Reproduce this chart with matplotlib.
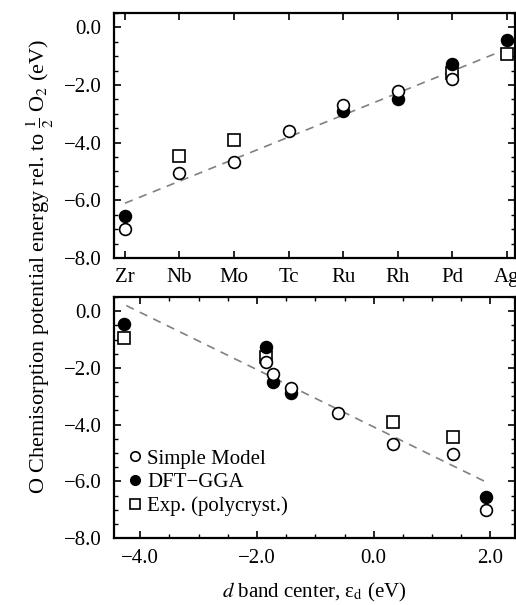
import numpy as np
import matplotlib
matplotlib.use('Agg')
from matplotlib import pyplot as plt
from matplotlib.ticker import MultipleLocator

plt.rcParams['font.family'] = ['Liberation Serif', 'DejaVu Serif']
plt.rcParams['mathtext.fontset'] = 'stix'

metals = ['Zr', 'Nb', 'Mo', 'Tc', 'Ru', 'Rh', 'Pd', 'Ag']
# d band centre for each metal (eV)
eps_d = [1.92, 1.36, 0.33, -0.62, -1.42, -1.72, -1.85, -4.28]

# O chemisorption energies (eV), None where there is no value
simple_model = [-7.0, -5.05, -4.67, -3.6, -2.7, -2.2, -1.78, None]
dft_gga = [-6.55, None, None, None, -2.9, -2.5, -1.27, -0.45]
experiment = [None, -4.45, -3.92, None, None, None, -1.6, -0.93]

# dashed trend lines, end points
fit_top_x = [0.0, 7.0]
fit_top_y = [-6.1, -0.75]
fit_bot_x = [-4.24, 1.9]
fit_bot_y = [0.2, -6.0]


def pick(xs, ys):
    pts = [(x, y) for x, y in zip(xs, ys) if y is not None]
    return [p[0] for p in pts], [p[1] for p in pts]


def fmt(v, p):
    return ('%.1f' % v).replace('-', '\u2212')


fig = plt.figure(figsize=(5.16, 6.05), dpi=100)
ax1 = fig.add_axes([0.221, 0.5736, 0.777, 0.405])
ax2 = fig.add_axes([0.221, 0.1107, 0.777, 0.3983])

idx = list(range(len(metals)))
ms = 8.5
for ax, xs, fx, fy in [(ax1, idx, fit_top_x, fit_top_y), (ax2, eps_d, fit_bot_x, fit_bot_y)]:
    ax.plot(fx, fy, ls=(0, (5, 4)), color='#808080', lw=1.2, zorder=1)
    x, y = pick(xs, experiment)
    ax.plot(x, y, 's', ms=ms, mfc='white', mec='black', mew=1.2, ls='none',
            label='Exp. (polycryst.)', zorder=2)
    x, y = pick(xs, dft_gga)
    ax.plot(x, y, 'o', ms=ms, mfc='black', mec='black', mew=1.2, ls='none',
            label='DFT\u2212GGA', zorder=3)
    x, y = pick(xs, simple_model)
    ax.plot(x, y, 'o', ms=ms, mfc='white', mec='black', mew=1.2, ls='none',
            label='Simple Model', zorder=4)

    ax.set_ylim(-8.0, 0.5)
    ax.yaxis.set_major_locator(MultipleLocator(2.0))
    ax.yaxis.set_minor_locator(MultipleLocator(0.5))
    ax.yaxis.set_major_formatter(plt.FuncFormatter(fmt))
    ax.tick_params(which='both', direction='in', top=True, right=True, labelsize=15)
    ax.tick_params(which='major', length=5, width=1.2)
    ax.tick_params(which='minor', length=3, width=1.0)
    ax.tick_params(axis='y', which='major', pad=9)
    for s in ax.spines.values():
        s.set_linewidth(1.6)

ax1.set_xlim(-0.2, 7.15)
ax1.set_xticks(idx)
ax1.set_xticklabels(metals)
ax1.tick_params(axis='x', which='major', pad=7)

ax2.set_xlim(-4.45, 2.42)
ax2.xaxis.set_major_locator(MultipleLocator(2.0))
ax2.xaxis.set_minor_locator(MultipleLocator(0.5))
ax2.xaxis.set_major_formatter(plt.FuncFormatter(fmt))
ax2.tick_params(axis='x', which='major', pad=8)
ax2.set_xlabel('$d$ band center, \u03b5$_{\\mathrm{d}}$ (eV)', fontsize=15, labelpad=9)

h, l = ax2.get_legend_handles_labels()
order = [2, 1, 0]
leg = ax2.legend([h[i] for i in order], [l[i] for i in order], loc='lower left',
                 frameon=False, fontsize=15, handlelength=0.6, handletextpad=0.3,
                 borderaxespad=0.3, labelspacing=0.2, markerscale=0.8,
                 bbox_to_anchor=(0.0, 0.03))

fig.text(0.078, 0.56, r'O Chemisorption potential energy rel. to $\frac{1}{2}$ O$_2$ (eV)',
         rotation=90, ha='center', va='center', fontsize=16)

fig.savefig('out.png', dpi=100)
